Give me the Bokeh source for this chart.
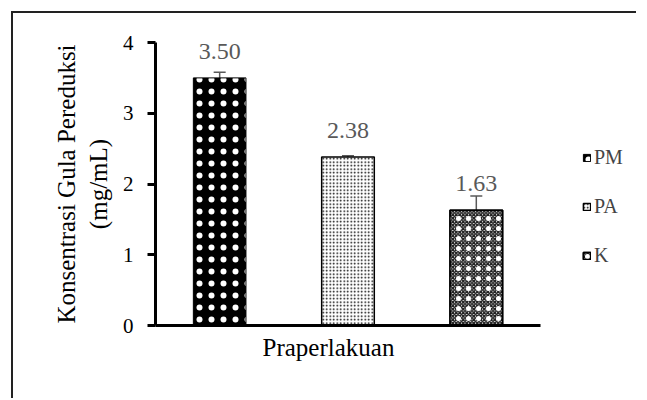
from bokeh.plotting import figure
from bokeh.models import (ColumnDataSource, Whisker, LabelSet, Legend,
                          LegendItem, FixedTicker, Title)
from bokeh.core.properties import value
from bokeh.embed import file_html
from bokeh.resources import INLINE

categories = ["PM", "PA", "K"]
values = [3.50, 2.38, 1.63]
errors = [0.08, 0.02, 0.20]
labels = ["3.50", "2.38", "1.63"]
y_ticks = [0, 1, 2, 3, 4]
x_title = "Praperlakuan"
y_title = "Konsentrasi Gula Pereduksi\n(mg/mL)"

FONT = "Liberation Serif"
xpos = list(range(1, len(categories) + 1))

p = figure(width=625, height=387,
           x_range=(0.5, 4.225),
           y_range=(0, 4),
           output_backend="svg", toolbar_location=None,
           min_border_left=142, min_border_right=5,
           min_border_top=29, min_border_bottom=75)
p.styles = {"margin-left": "11px", "margin-top": "11px",
            "border-left": "2px solid #222222", "border-top": "2px solid #222222"}
p.outline_line_color = None

styles = {
    "PM": [dict(fill_color="black", line_color="black", line_width=1,
                hatch_pattern="dot", hatch_color="white", hatch_scale=12, hatch_weight=0.5)],
    "PA": [dict(fill_color="white", line_color="black", line_width=1.5,
                hatch_pattern="dot", hatch_color="black", hatch_scale=3.5, hatch_weight=1.5)],
    "K": [dict(fill_color="white", line_color="black", line_width=1.5,
               hatch_pattern="diagonal_cross", hatch_color="#222222", hatch_scale=3.5, hatch_weight=1.6),
          dict(fill_alpha=0, line_color="black", line_width=1.5,
               hatch_pattern="dot", hatch_color="white", hatch_scale=10, hatch_weight=1.8)],
}

items = []
for cat, xp, val in zip(categories, xpos, values):
    s = ColumnDataSource(dict(x=[xp], top=[val]))
    rs = []
    for st in styles[cat]:
        rs.append(p.vbar(x="x", top="top", width=0.41, source=s, **st))
    items.append(LegendItem(label=cat, renderers=rs))

src = ColumnDataSource(dict(
    x=xpos, top=values,
    upper=[v + e for v, e in zip(values, errors)],
    lower=[v - e for v, e in zip(values, errors)],
    label=labels))

w = Whisker(base="x", upper="upper", lower="lower", source=src,
            line_color="#595959", line_width=1.5)
for head in (w.upper_head, w.lower_head):
    head.size = 12
    head.line_color = "#595959"
    head.line_width = 1.5
p.add_layout(w)

lbl = LabelSet(x="x", y="top", text="label", source=src, y_offset=19,
               text_align="center", text_baseline="alphabetic",
               text_font=value(FONT), text_font_size=value("24px"), text_color="#595959")
p.add_layout(lbl)

legend = Legend(items=items, location=(427, 58), orientation="vertical",
                glyph_width=9, glyph_height=9, label_standoff=3,
                label_text_font=FONT, label_text_font_size="20px",
                label_height=20, spacing=26, padding=0, margin=0,
                border_line_color=None, background_fill_alpha=0)
p.add_layout(legend)

p.grid.visible = False

p.yaxis.ticker = FixedTicker(ticks=y_ticks)
p.yaxis.axis_line_width = 3
p.yaxis.major_tick_line_width = 3
p.yaxis.major_tick_out = 8
p.yaxis.major_tick_in = 0
p.yaxis.minor_tick_line_color = None
p.yaxis.major_label_text_font = FONT
p.yaxis.major_label_text_font_size = "21px"
p.yaxis.major_label_text_color = "black"
p.yaxis.major_label_standoff = 14
p.yaxis.axis_label = y_title
p.yaxis.axis_label_text_font = FONT
p.yaxis.axis_label_text_font_size = "25px"
p.yaxis.axis_label_text_font_style = "normal"
p.yaxis.axis_label_text_color = "black"
p.yaxis.axis_label_standoff = 8

p.xaxis.ticker = FixedTicker(ticks=[])
p.xaxis.bounds = (0.5, len(categories) + 0.5)
p.xaxis.axis_line_width = 3
p.xaxis.major_tick_line_color = None
p.xaxis.minor_tick_line_color = None
p.xaxis.major_label_standoff = 0

xt = Title(text=x_title, align="left", offset=107, standoff=13,
           text_font=FONT, text_font_size="25px", text_font_style="normal",
           text_color="black")
p.add_layout(xt, "below")

open("out.html", "w").write(file_html(p, INLINE))
